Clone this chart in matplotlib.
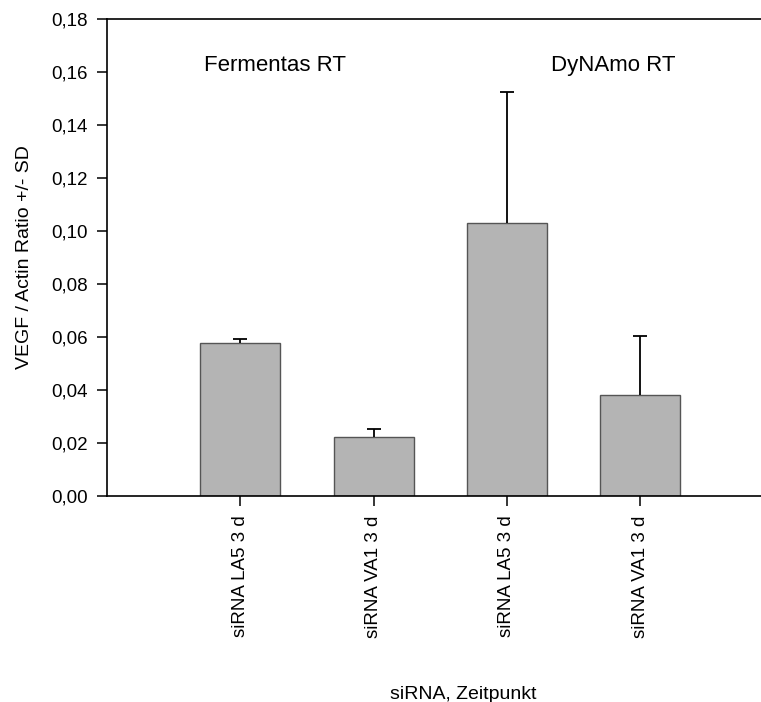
import numpy as np
import matplotlib
matplotlib.use('Agg')
from matplotlib import pyplot as plt
from matplotlib.ticker import FuncFormatter

#%% Daten
labels = ['siRNA LA5 3 d', 'siRNA VA1 3 d', 'siRNA LA5 3 d', 'siRNA VA1 3 d']
werte = [0.0578, 0.0222, 0.1029, 0.0380]
sd = [0.0015, 0.0031, 0.0497, 0.0223]
gruppen = ['Fermentas RT', 'DyNAmo RT']
yticks = [0.00, 0.02, 0.04, 0.06, 0.08, 0.10, 0.12, 0.14, 0.16, 0.18]

plt.rcParams['font.family'] = ['Liberation Sans', 'DejaVu Sans']

#%% Plot
fig = plt.figure(figsize=(7.61, 7.02), dpi=100)
ax = fig.add_axes([107/761, 1 - 495.7/702, 1 - 107/761, (495.7 - 19)/702])

x = np.arange(1, len(werte) + 1)
ax.bar(x, werte, width=0.6, color='#b4b4b4', edgecolor='#555555', linewidth=1.0, zorder=2)
eb = ax.errorbar(x, werte, yerr=[np.zeros(len(sd)), sd], fmt='none', ecolor='black',
                 elinewidth=1.3, capsize=5, capthick=1.3, zorder=3)
# nur obere Kappe zeigen
eb[1][0].set_visible(False)

ax.set_xlim(0, 4.905)
ax.set_ylim(0, 0.18)
ax.set_yticks(yticks)
ax.yaxis.set_major_formatter(FuncFormatter(lambda v, p: f"{v:.2f}".replace('.', ',')))
ax.set_xticks(x)
ax.set_xticklabels(labels, rotation=90, fontsize=13.5)
ax.tick_params(axis='both', direction='out', length=7, width=1.1, pad=7, labelsize=13.5)

for s in ['left', 'top', 'bottom']:
    ax.spines[s].set_linewidth(1.2)
ax.spines['right'].set_visible(False)

ax.set_ylabel('VEGF / Actin Ratio +/- SD', fontsize=14)
ax.yaxis.set_label_coords(-0.113, 0.5)
ax.set_xlabel('siRNA, Zeitpunkt', fontsize=14)
ax.xaxis.set_label_coords(0.544, -0.399)

# Gruppenbeschriftung
ax.text(1.26, 0.1623, gruppen[0], fontsize=16, ha='center', va='center')
ax.text(3.80, 0.1623, gruppen[1], fontsize=16, ha='center', va='center')

fig.savefig('out.png', dpi=100)
